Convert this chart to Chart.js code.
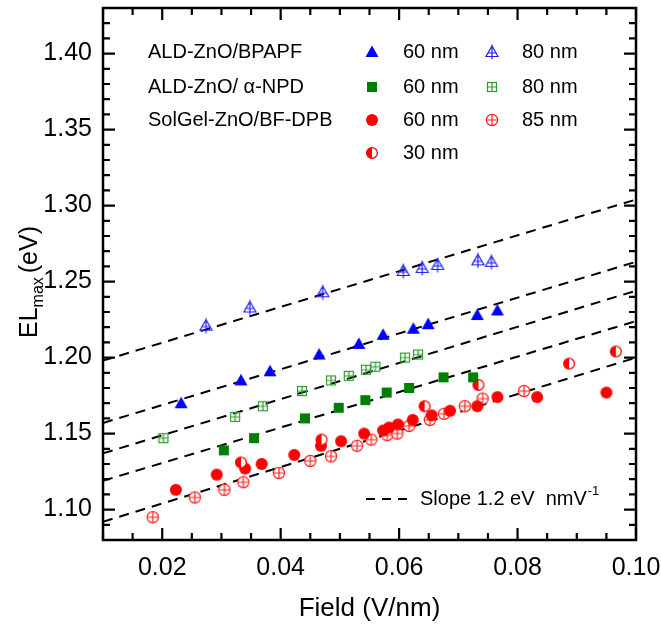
<!DOCTYPE html>
<html>
<head>
<meta charset="utf-8">
<script src="https://cdn.jsdelivr.net/npm/chart.js@4.4.1/dist/chart.umd.min.js"></script>
<style>
  html, body { margin: 0; padding: 0; background: #fff; }
  #wrap { width: 661px; height: 633px; }
</style>
</head>
<body>
<div id="wrap"><canvas id="chart" width="661" height="633"></canvas></div>
<script>
const FONT = "'Liberation Sans', Arial, Helvetica, sans-serif"

// Field (V/nm) and EL max (eV)
const bpapf60X = [0.0232, 0.0333, 0.0382, 0.0465, 0.0532, 0.0573, 0.0624, 0.0649, 0.0732, 0.0766]
const bpapf60Y = [1.170, 1.185, 1.191, 1.202, 1.209, 1.215, 1.219, 1.222, 1.228, 1.231]
const bpapf80X = [0.0274, 0.0348, 0.0471, 0.0607, 0.0639, 0.0665, 0.0733, 0.0756]
const bpapf80Y = [1.221, 1.233, 1.243, 1.257, 1.259, 1.261, 1.264, 1.263]
const npd60X = [0.0304, 0.0355, 0.0441, 0.0498, 0.0543, 0.0579, 0.0617, 0.0675, 0.0725]
const npd60Y = [1.139, 1.147, 1.160, 1.167, 1.172, 1.177, 1.180, 1.187, 1.187]
const npd80X = [0.0202, 0.0323, 0.0370, 0.0436, 0.0485, 0.0515, 0.0544, 0.0560, 0.0610, 0.0632]
const npd80Y = [1.147, 1.161, 1.168, 1.178, 1.185, 1.188, 1.192, 1.194, 1.200, 1.202]
const dpb60X = [0.0223, 0.0292, 0.0340, 0.0368, 0.0423, 0.0468, 0.0502, 0.0541, 0.0573, 0.0583,
                0.0598, 0.0623, 0.0655, 0.0686, 0.0732, 0.0766, 0.0833, 0.0950]
const dpb60Y = [1.113, 1.123, 1.127, 1.130, 1.136, 1.142, 1.145, 1.150, 1.152, 1.154,
                1.156, 1.159, 1.162, 1.165, 1.168, 1.174, 1.174, 1.177]
const dpb30X = [0.0333, 0.0469, 0.0643, 0.0734, 0.0887, 0.0966]
const dpb30Y = [1.131, 1.146, 1.168, 1.182, 1.196, 1.204]
const dpb85X = [0.0184, 0.0255, 0.0305, 0.0337, 0.0397, 0.0450, 0.0485, 0.0529, 0.0553, 0.0580,
                0.0597, 0.0617, 0.0652, 0.0676, 0.0711, 0.0741, 0.0811]
const dpb85Y = [1.095, 1.108, 1.113, 1.118, 1.124, 1.132, 1.135, 1.142, 1.146, 1.149,
                1.150, 1.155, 1.159, 1.163, 1.168, 1.173, 1.178]

// dashed guides, slope 1.2 eV nm/V
const guideX = [0.01, 0.10]
const guideY = [
  [1.198, 1.304],
  [1.157, 1.263],
  [1.137, 1.244],
  [1.119, 1.224],
  [1.092, 1.200]
]

const xTicks = [0.02, 0.04, 0.06, 0.08, 0.10]
const yTicks = [1.10, 1.15, 1.20, 1.25, 1.30, 1.35, 1.40]

const BLUE = "#0000ff"
const GREEN = "#007f00"
const GREEN_OPEN = "#2f9a2f"
const RED = "#ff0000"

const pts = (xs, ys) => xs.map((x, i) => ({ x, y: ys[i] }))

function marker(draw) {
  const c = document.createElement("canvas")
  c.width = 18
  c.height = 18
  const g = c.getContext("2d")
  draw(g)
  return c
}

const triFilled = marker(g => {
  g.fillStyle = BLUE
  g.beginPath()
  g.moveTo(9, 2.5); g.lineTo(15.5, 14); g.lineTo(2.5, 14)
  g.closePath(); g.fill()
})
const triCross = marker(g => {
  g.strokeStyle = "#2020ff"
  g.lineWidth = 1.2
  g.beginPath()
  g.moveTo(9, 3); g.lineTo(15, 13.5); g.lineTo(3, 13.5); g.closePath()
  g.moveTo(9, 1.5); g.lineTo(9, 16.5)
  g.moveTo(4.5, 10); g.lineTo(13.5, 10)
  g.stroke()
})
const sqFilled = marker(g => {
  g.fillStyle = GREEN
  g.fillRect(4, 4, 10, 10)
})
const sqCross = marker(g => {
  g.strokeStyle = GREEN_OPEN
  g.lineWidth = 1.2
  g.strokeRect(4.5, 4.5, 9, 9)
  g.beginPath()
  g.moveTo(9, 4.5); g.lineTo(9, 13.5)
  g.moveTo(4.5, 9); g.lineTo(13.5, 9)
  g.stroke()
})
const circFilled = marker(g => {
  g.fillStyle = RED
  g.beginPath(); g.arc(9, 9, 6, 0, Math.PI * 2); g.fill()
})
const circHalf = marker(g => {
  g.fillStyle = "#fff"
  g.beginPath(); g.arc(9, 9, 5.4, 0, Math.PI * 2); g.fill()
  g.fillStyle = RED
  g.beginPath(); g.arc(9, 9, 5.4, Math.PI / 2, Math.PI * 1.5); g.closePath(); g.fill()
  g.strokeStyle = RED
  g.lineWidth = 1.3
  g.beginPath(); g.arc(9, 9, 5.4, 0, Math.PI * 2); g.stroke()
})
const circCross = marker(g => {
  g.fillStyle = "#fff"
  g.strokeStyle = "#ff2020"
  g.lineWidth = 1.2
  g.beginPath(); g.arc(9, 9, 5.6, 0, Math.PI * 2); g.fill(); g.stroke()
  g.beginPath()
  g.moveTo(9, 3.4); g.lineTo(9, 14.6)
  g.moveTo(3.4, 9); g.lineTo(14.6, 9)
  g.stroke()
})

const markerSet = (label, xs, ys, style) => ({
  label,
  data: pts(xs, ys),
  pointStyle: style,
  pointRadius: 7,
  showLine: false
})

const guideSets = guideY.map((ys, i) => ({
  label: "guide " + (i + 1),
  data: pts(guideX, ys),
  showLine: true,
  borderColor: "#000",
  borderWidth: 2,
  borderDash: [10, 7],
  pointRadius: 0
}))

// frame, inward ticks, legend, y title
const decorations = {
  id: "decorations",
  afterDraw(chart) {
    const { ctx, chartArea: a, scales: { x, y } } = chart
    ctx.save()
    ctx.strokeStyle = "#000"
    ctx.lineWidth = 2.5
    ctx.strokeRect(a.left, a.top, a.right - a.left, a.bottom - a.top)

    ctx.lineWidth = 2.2
    ctx.beginPath()
    for (let v = 0.01; v <= 0.1001; v += 0.005) {
      const px = x.getPixelForValue(v)
      const major = xTicks.some(t => Math.abs(t - v) < 1e-6)
      const len = major ? 12 : 7
      ctx.moveTo(px, a.bottom); ctx.lineTo(px, a.bottom - len)
      ctx.moveTo(px, a.top); ctx.lineTo(px, a.top + len)
    }
    for (let v = 1.08; v <= 1.4301; v += 0.01) {
      const py = y.getPixelForValue(v)
      const major = yTicks.some(t => Math.abs(t - v) < 1e-6)
      const len = major ? 12 : 7
      ctx.moveTo(a.left, py); ctx.lineTo(a.left + len, py)
      ctx.moveTo(a.right, py); ctx.lineTo(a.right - len, py)
    }
    ctx.stroke()

    // legend
    ctx.fillStyle = "#000"
    ctx.font = "20px " + FONT
    ctx.textBaseline = "middle"
    ctx.textAlign = "left"
    ctx.fillText("ALD-ZnO/BPAPF", 148, 52)
    ctx.fillText("ALD-ZnO/ \u03b1-NPD", 148, 87)
    ctx.fillText("SolGel-ZnO/BF-DPB", 148, 120)
    const rows = [
      [triFilled, "60 nm", triCross, "80 nm", 52],
      [sqFilled, "60 nm", sqCross, "80 nm", 87],
      [circFilled, "60 nm", circCross, "85 nm", 120],
      [circHalf, "30 nm", null, null, 153]
    ]
    rows.forEach(([m1, t1, m2, t2, ry]) => {
      ctx.drawImage(m1, 372 - 9, ry - 9)
      ctx.fillText(t1, 403, ry)
      if (m2) {
        ctx.drawImage(m2, 492 - 9, ry - 9)
        ctx.fillText(t2, 522, ry)
      }
    })

    // slope key
    ctx.lineWidth = 2
    ctx.setLineDash([9, 7])
    ctx.beginPath()
    ctx.moveTo(366, 499); ctx.lineTo(409, 499)
    ctx.stroke()
    ctx.setLineDash([])
    const slopeText = "Slope 1.2 eV  nmV"
    ctx.fillText(slopeText, 420, 499)
    const w = ctx.measureText(slopeText).width
    ctx.font = "13px " + FONT
    ctx.fillText("-1", 420 + w + 1, 491)

    // y title with subscript
    ctx.translate(28, 282)
    ctx.rotate(-Math.PI / 2)
    ctx.textBaseline = "alphabetic"
    const parts = [["EL", 25, 0, 0], ["max", 16, 6, 4], ["(eV)", 25, 0, 0]]
    let total = 0
    parts.forEach(([t, s, , gap]) => { ctx.font = s + "px " + FONT; total += ctx.measureText(t).width + gap })
    let cx = -total / 2
    parts.forEach(([t, s, dy, gap]) => {
      ctx.font = s + "px " + FONT
      ctx.fillText(t, cx, 9 + dy)
      cx += ctx.measureText(t).width + gap
    })
    ctx.restore()
  }
}

new Chart(document.getElementById("chart"), {
  type: "scatter",
  data: {
    datasets: [
      markerSet("ALD-ZnO/BPAPF 80 nm", bpapf80X, bpapf80Y, triCross),
      markerSet("ALD-ZnO/BPAPF 60 nm", bpapf60X, bpapf60Y, triFilled),
      markerSet("ALD-ZnO/a-NPD 80 nm", npd80X, npd80Y, sqCross),
      markerSet("ALD-ZnO/a-NPD 60 nm", npd60X, npd60Y, sqFilled),
      markerSet("SolGel-ZnO/BF-DPB 30 nm", dpb30X, dpb30Y, circHalf),
      markerSet("SolGel-ZnO/BF-DPB 60 nm", dpb60X, dpb60Y, circFilled),
      markerSet("SolGel-ZnO/BF-DPB 85 nm", dpb85X, dpb85Y, circCross),
      ...guideSets
    ]
  },
  options: {
    responsive: false,
    animation: false,
    events: [],
    layout: { padding: { left: 0, right: 25, top: 5, bottom: 0 } },
    plugins: {
      legend: { display: false },
      tooltip: { enabled: false }
    },
    scales: {
      x: {
        type: "linear",
        min: 0.01,
        max: 0.10,
        afterBuildTicks: s => { s.ticks = xTicks.map(v => ({ value: v })) },
        afterFit: s => {
          s.height = 93
          s.paddingLeft = 0
          s.paddingRight = 0
        },
        grid: { display: false, drawTicks: false },
        border: { display: false },
        ticks: {
          padding: 13,
          color: "#000",
          maxRotation: 0,
          autoSkip: false,
          font: { family: FONT, size: 25 },
          callback: v => Number(v).toFixed(2)
        },
        title: {
          display: true,
          text: "Field (V/nm)",
          color: "#000",
          font: { family: FONT, size: 26 },
          padding: { top: 0, bottom: 9 }
        }
      },
      y: {
        type: "linear",
        min: 1.08,
        max: 1.43,
        afterBuildTicks: s => { s.ticks = yTicks.map(v => ({ value: v })) },
        afterFit: s => {
          s.width = 103
          s.paddingTop = 0
          s.paddingBottom = 0
        },
        grid: { display: false, drawTicks: false },
        border: { display: false },
        ticks: {
          padding: 11,
          color: "#000",
          autoSkip: false,
          font: { family: FONT, size: 25 },
          callback: v => Number(v).toFixed(2)
        }
      }
    }
  },
  plugins: [decorations]
})
</script>
</body>
</html>
